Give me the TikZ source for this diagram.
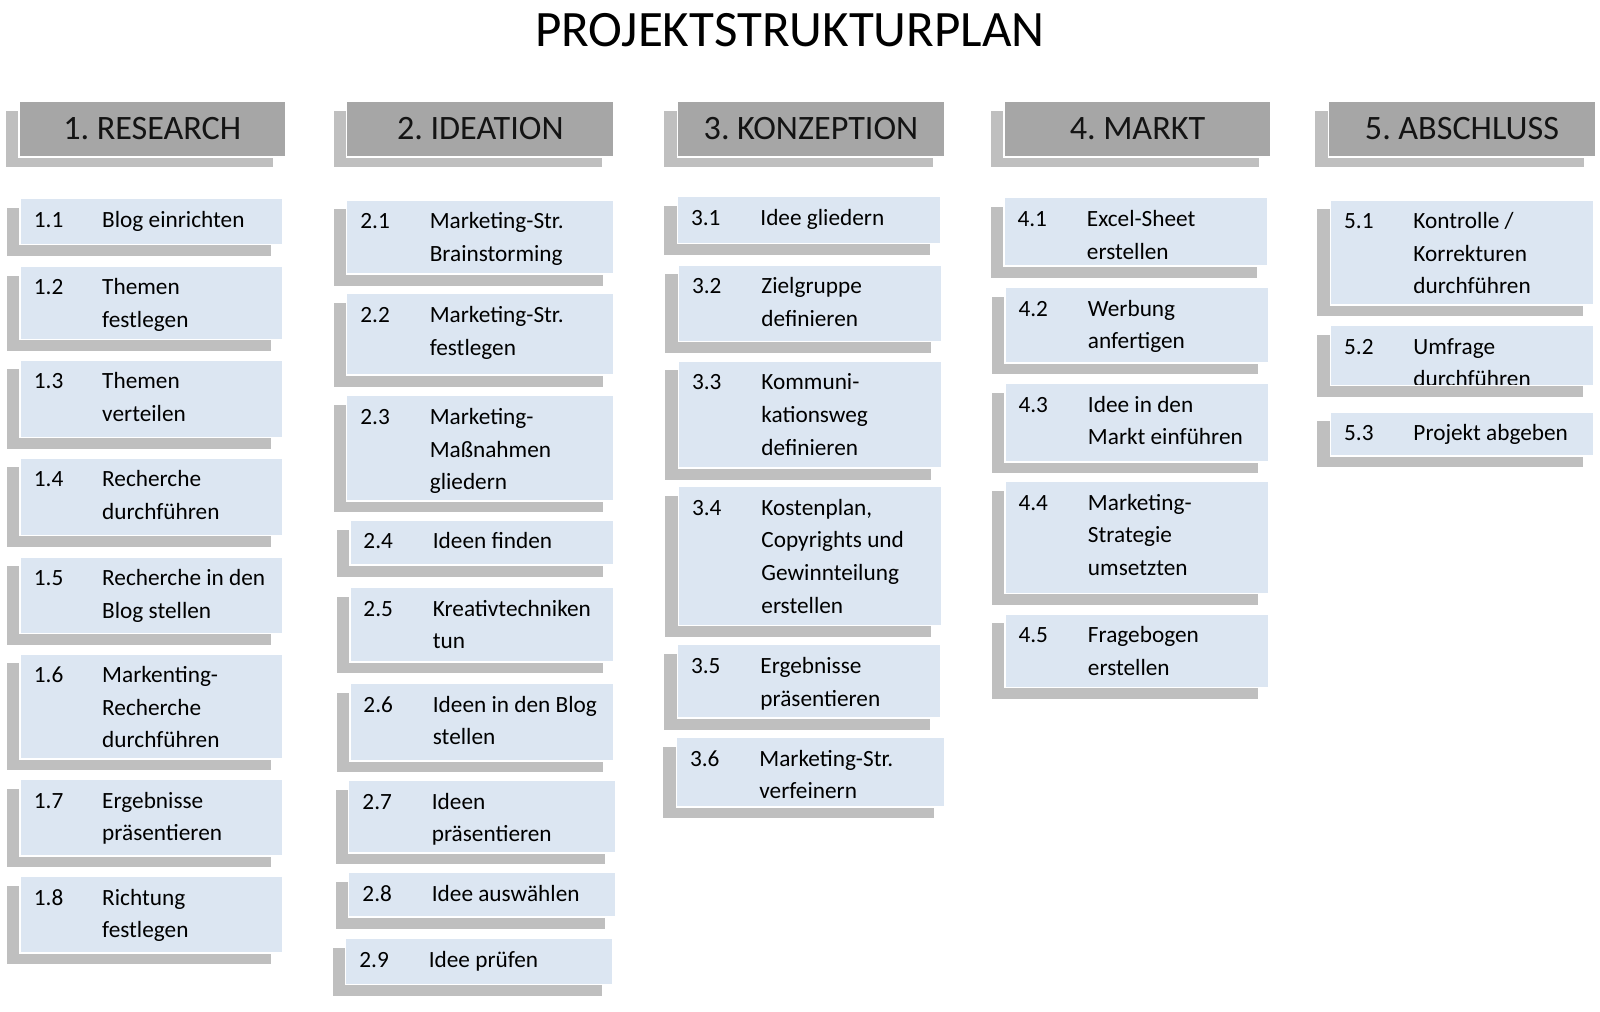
\documentclass[tikz,border=0pt]{standalone}
\usepackage{fontspec}
\setmainfont{Carlito}
\usepackage{tikz}
\usetikzlibrary{positioning}
\definecolor{headgray}{RGB}{166,166,166}
\definecolor{shadegray}{RGB}{191,191,191}
\definecolor{itemblue}{RGB}{220,230,242}
\newcommand\itemfont{\fontsize{22.8}{32}\selectfont}
\newcommand\headfont{\fontsize{33.5}{38}\selectfont}
\newcommand\titlefont{\fontsize{50}{58}\selectfont}
\newcommand\wbstext[1]{\parbox[t]{190pt}{\raggedright #1}}

\begin{document}
\begin{tikzpicture}[x=1pt, y=-1pt,
      head/.style={fill=headgray, draw=white, line width=1.5pt, font=\headfont,
                   text=black!92, inner sep=0pt},
      item/.style={fill=itemblue, draw=white, line width=1.5pt, inner sep=0pt},
      shade/.style={fill=shadegray},
      lbl/.style={anchor=base west, font=\itemfont, inner sep=0pt}]
    \useasboundingbox (0,0) rectangle (1568,991);
    \node[font=\titlefont] (title) at (774,30) {PROJEKTSTRUKTURPLAN};
    % phase headers
    \foreach \c/\xa/\xb/\name in {1/18/279/RESEARCH, 2/339/601/IDEATION,
        3/663/925/KONZEPTION, 4/983/1245/MARKT, 5/1301/1563/ABSCHLUSS}{
      \fill[shade] (\xa-12,109) rectangle (\xb-11,164);
      \node[head, anchor=north west, minimum width={(\xb-\xa)*1pt},
            minimum height=55pt] (h\c) at (\xa,98) {\c.\hspace{0.22em}\name};
    }
    % work packages, column 1
    \foreach \k/\xa/\xb/\ya/\yb/\txt in {
        1/19/276/194/239/{Blog einrichten},
        2/19/276/260/332/{Themen\\festlegen},
        3/19/276/352/428/{Themen\\verteilen},
        4/19/276/448/524/{Recherche\\durchführen},
        5/19/276/545/620/{Recherche in den\\Blog stellen},
        6/19/276/640/743/{Markenting-\\Recherche\\durchführen},
        7/19/276/763/838/{Ergebnisse\\präsentieren},
        8/19/276/858/933/{Richtung\\festlegen}}{
      \fill[shade] (\xa-12,\ya+10) rectangle (\xb-10,\yb+12);
      \node[item, anchor=north west, minimum width={(\xb-\xa)*1pt},
            minimum height={(\yb-\ya)*1pt}] (p1\k) at (\xa,\ya) {};
      \begin{scope}
        \clip (\xa,\ya) rectangle (\xb,\yb);
        \node[lbl] (n1\k) at (\xa+14,\ya+29) {1.\k};
        \node[lbl] (t1\k) at (\xa+81,\ya+29) {\wbstext{\txt}};
      \end{scope}
    }
    % work packages, column 2
    \foreach \k/\xa/\xb/\ya/\yb/\txt in {
        1/339/601/195/268/{Marketing-Str.\\Brainstorming},
        2/339/601/287/367/{Marketing-Str.\\festlegen},
        3/339/601/387/490/{Marketing-\\Maßnahmen\\gliedern},
        4/342/601/509/553/{Ideen finden},
        5/342/601/575/648/{Kreativtechniken\\tun},
        6/342/601/669/745/{Ideen in den Blog\\stellen},
        7/341/603/764/835/{Ideen\\präsentieren},
        8/341/603/854/898/{Idee auswählen},
        9/338/600/919/964/{Idee prüfen}}{
      \fill[shade] (\xa-12,\ya+10) rectangle (\xb-10,\yb+12);
      \node[item, anchor=north west, minimum width={(\xb-\xa)*1pt},
            minimum height={(\yb-\ya)*1pt}] (p2\k) at (\xa,\ya) {};
      \begin{scope}
        \clip (\xa,\ya) rectangle (\xb,\yb);
        \node[lbl] (n2\k) at (\xa+14,\ya+29) {2.\k};
        \node[lbl] (t2\k) at (\xa+82,\ya+29) {\wbstext{\txt}};
      \end{scope}
    }
    % work packages, column 3
    \foreach \k/\xa/\xb/\ya/\yb/\txt in {
        1/663/921/192/238/{Idee gliedern},
        2/664/922/259/334/{Zielgruppe\\definieren},
        3/664/922/353/458/{Kommuni-\\kationsweg\\definieren},
        4/664/922/476/612/{Kostenplan,\\Copyrights und\\Gewinnteilung\\erstellen},
        5/663/921/631/703/{Ergebnisse\\präsentieren},
        6/662/925/722/790/{Marketing-Str.\\verfeinern}}{
      \fill[shade] (\xa-12,\ya+10) rectangle (\xb-10,\yb+12);
      \node[item, anchor=north west, minimum width={(\xb-\xa)*1pt},
            minimum height={(\yb-\ya)*1pt}] (p3\k) at (\xa,\ya) {};
      \begin{scope}
        \clip (\xa,\ya) rectangle (\xb,\yb);
        \node[lbl] (n3\k) at (\xa+14,\ya+29) {3.\k};
        \node[lbl] (t3\k) at (\xa+82,\ya+29) {\wbstext{\txt}};
      \end{scope}
    }
    % work packages, column 4
    \foreach \k/\xa/\xb/\ya/\yb/\txt in {
        1/983/1242/193/260/{Excel-Sheet\\erstellen},
        2/984/1243/281/355/{Werbung\\anfertigen},
        3/984/1243/375/452/{Idee in den\\Markt einführen},
        4/984/1243/471/581/{Marketing-\\Strategie\\umsetzten},
        5/984/1243/601/673/{Fragebogen\\erstellen}}{
      \fill[shade] (\xa-12,\ya+10) rectangle (\xb-10,\yb+12);
      \node[item, anchor=north west, minimum width={(\xb-\xa)*1pt},
            minimum height={(\yb-\ya)*1pt}] (p4\k) at (\xa,\ya) {};
      \begin{scope}
        \clip (\xa,\ya) rectangle (\xb,\yb);
        \node[lbl] (n4\k) at (\xa+14,\ya+29) {4.\k};
        \node[lbl] (t4\k) at (\xa+82,\ya+29) {\wbstext{\txt}};
      \end{scope}
    }
    % work packages, column 5
    \foreach \k/\xa/\xb/\ya/\yb/\txt in {
        1/1303/1561/195/298/{Kontrolle /\\Korrekturen\\durchführen},
        2/1303/1561/318/377/{Umfrage\\durchführen},
        3/1303/1561/403/446/{Projekt abgeben}}{
      \fill[shade] (\xa-12,\ya+10) rectangle (\xb-10,\yb+12);
      \node[item, anchor=north west, minimum width={(\xb-\xa)*1pt},
            minimum height={(\yb-\ya)*1pt}] (p5\k) at (\xa,\ya) {};
      \begin{scope}
        \clip (\xa,\ya) rectangle (\xb,\yb);
        \node[lbl] (n5\k) at (\xa+14,\ya+29) {5.\k};
        \node[lbl] (t5\k) at (\xa+82,\ya+29) {\wbstext{\txt}};
      \end{scope}
    }
  \end{tikzpicture}
\end{document}
